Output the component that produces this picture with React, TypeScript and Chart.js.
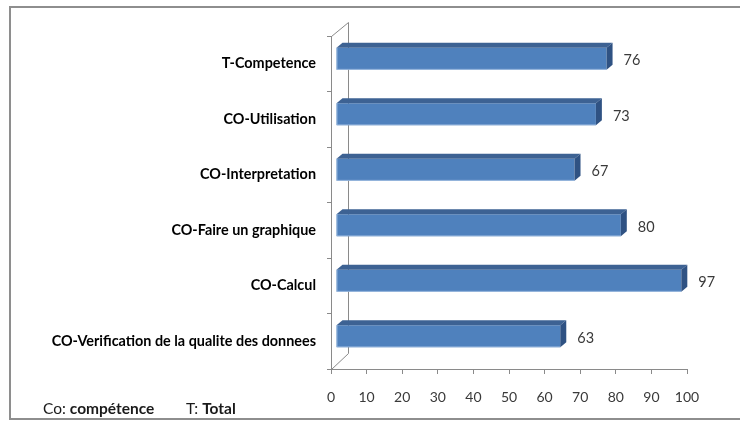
import React, { useEffect, useRef } from "react";
import { Chart, registerables } from "chart.js";

Chart.register(...registerables);

const categories = [
  "T-Competence",
  "CO-Utilisation",
  "CO-Interpretation",
  "CO-Faire un graphique",
  "CO-Calcul",
  "CO-Verification de la qualite des donnees",
];
const values = [76, 73, 67, 80, 97, 63];
const xTicks = [0, 10, 20, 30, 40, 50, 60, 70, 80, 90, 100];
const noteParts: [string, boolean][] = [
  ["Co: ", false],
  ["compétence", true],
  ["T: ", false],
  ["Total", true],
];

const FONT = "Lato, 'Open Sans', sans-serif";
const DX = 5;
const DY = -5;
const TOP_DX = 6;
const TOP_DY = -5;
const WALL_DX = 17;
const WALL_DY = -15;
const AXIS_GRAY = "#8a8a8a";

const threeD = {
  id: "threeD",
  beforeDraw(chart: any) {
    const { ctx, chartArea } = chart;
    ctx.save();
    ctx.fillStyle = "#ffffff";
    ctx.fillRect(0, 0, chart.width, chart.height);
    // outer frame
    ctx.strokeStyle = "#8e8e8e";
    ctx.lineWidth = 2;
    ctx.beginPath();
    ctx.moveTo(chart.width + 2, 7);
    ctx.lineTo(10, 7);
    ctx.lineTo(10, 419);
    ctx.lineTo(chart.width + 2, 419);
    ctx.stroke();
    // back wall
    const { left, top, bottom } = chartArea;
    ctx.strokeStyle = AXIS_GRAY;
    ctx.lineWidth = 1;
    ctx.beginPath();
    ctx.moveTo(left + 0.5, top + 0.5);
    ctx.lineTo(left + WALL_DX + 0.5, top + WALL_DY + 1.5);
    ctx.lineTo(left + WALL_DX + 0.5, bottom + WALL_DY - 0.5);
    ctx.lineTo(left + 0.5, bottom + 0.5);
    ctx.stroke();
    ctx.restore();
  },
  beforeDatasetsDraw(chart: any) {
    chart.ctx.save();
    chart.ctx.translate(DX, DY);
  },
  afterDatasetsDraw(chart: any) {
    const { ctx } = chart;
    const meta = chart.getDatasetMeta(0);
    meta.data.forEach((bar: any) => {
      const p = bar.getProps(["x", "y", "base", "height"], true);
      const x0 = p.base;
      const x1 = p.x;
      const y0 = p.y - p.height / 2;
      const y1 = p.y + p.height / 2;
      ctx.fillStyle = "#3d6293";
      ctx.beginPath();
      ctx.moveTo(x0, y0);
      ctx.lineTo(x0 + TOP_DX, y0 + TOP_DY);
      ctx.lineTo(x1 + TOP_DX, y0 + TOP_DY);
      ctx.lineTo(x1, y0);
      ctx.closePath();
      ctx.fill();
      ctx.fillStyle = "#2f5283";
      ctx.beginPath();
      ctx.moveTo(x1, y0);
      ctx.lineTo(x1 + TOP_DX, y0 + TOP_DY);
      ctx.lineTo(x1 + TOP_DX, y1 + TOP_DY);
      ctx.lineTo(x1, y1);
      ctx.closePath();
      ctx.fill();
      // light edge on the front face
      ctx.strokeStyle = "rgba(160,190,225,0.8)";
      ctx.lineWidth = 1;
      ctx.beginPath();
      ctx.moveTo(x0 + 0.5, y0);
      ctx.lineTo(x0 + 0.5, y1 - 0.5);
      ctx.lineTo(x1, y1 - 0.5);
      ctx.stroke();
    });
    ctx.restore();
    // value labels
    ctx.save();
    ctx.font = `14.5px ${FONT}`;
    ctx.fillStyle = "#3a3a3a";
    ctx.textAlign = "left";
    ctx.textBaseline = "middle";
    meta.data.forEach((bar: any, i: number) => {
      const p = bar.getProps(["x", "y"], true);
      ctx.fillText(String(values[i]), p.x + DX + 17, p.y + DY + 2);
    });
    ctx.restore();
  },
  afterDraw(chart: any) {
    const { ctx } = chart;
    ctx.save();
    ctx.textBaseline = "alphabetic";
    ctx.fillStyle = "#1a1a1a";
    let x = 43;
    const y = 414;
    noteParts.forEach(([t, bold], i) => {
      ctx.font = `${bold ? "bold " : ""}15.5px ${FONT}`;
      ctx.fillText(t, x, y);
      x += ctx.measureText(t).width;
      if (i === 1) x = 186;
    });
    ctx.restore();
  },
};

export default function App() {
  const ref = useRef<HTMLCanvasElement>(null);
  useEffect(() => {
    document.body.style.margin = "0";
    const chart = new Chart(ref.current!, {
      type: "bar",
      data: {
        labels: categories,
        datasets: [
          {
            data: values,
            backgroundColor: "#4f81bd",
            borderWidth: 0,
            categoryPercentage: 1,
            barPercentage: 0.4,
          },
        ],
      },
      options: {
        indexAxis: "y",
        animation: false,
        responsive: false,
        devicePixelRatio: 1,
        layout: { padding: { left: 0, top: 36, right: 53, bottom: 0 } },
        plugins: { legend: { display: false }, tooltip: { enabled: false } },
        scales: {
          x: {
            min: 0,
            max: 100,
            afterBuildTicks: (s: any) => {
              s.ticks = xTicks.map((v) => ({ value: v }));
            },
            afterFit: (s: any) => {
              s.height = 52;
            },
            grid: {
              drawOnChartArea: false,
              drawTicks: true,
              tickLength: 5,
              color: AXIS_GRAY,
            },
            border: { color: AXIS_GRAY },
            ticks: {
              font: { family: FONT, size: 14 },
              color: "#3a3a3a",
              padding: 15,
              maxRotation: 0,
            },
          },
          y: {
            afterFit: (s: any) => {
              s.width = 331;
            },
            grid: {
              drawOnChartArea: false,
              drawTicks: true,
              tickLength: 4,
              color: AXIS_GRAY,
            },
            border: { color: AXIS_GRAY },
            ticks: {
              font: { family: FONT, size: 14.4, weight: "bold" },
              color: "#000000",
              padding: 11,
            },
          },
        },
      },
      plugins: [threeD],
    });
    return () => chart.destroy();
  }, []);
  return (
    <div style={{ width: 740, height: 421 }}>
      <canvas ref={ref} width={740} height={421} />
    </div>
  );
}
